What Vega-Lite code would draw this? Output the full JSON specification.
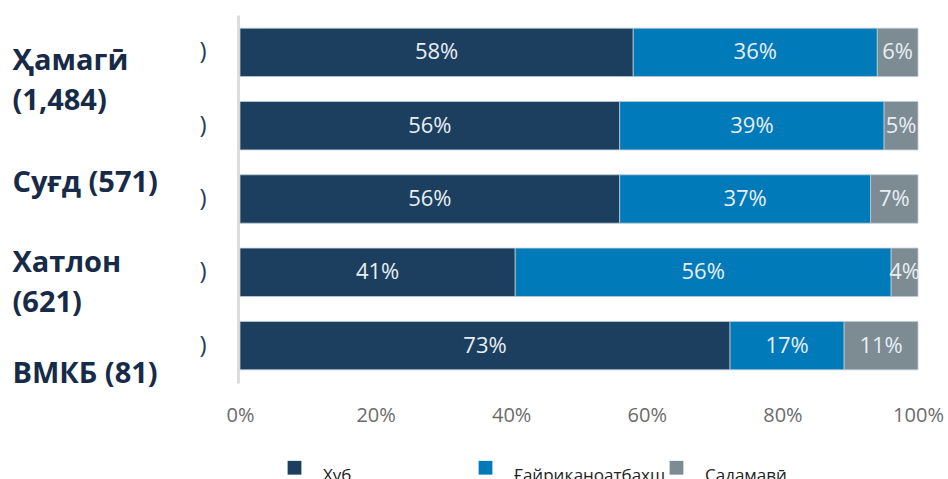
{
  "$schema": "https://vega.github.io/schema/vega-lite/v6.json",
  "width": 678,
  "height": 368,
  "autosize": {"type": "none"},
  "padding": {"left": 240, "top": 15, "right": 30, "bottom": 96},
  "background": "white",
  "config": {"view": {"stroke": null}},
  "datasets": {
    "bars": [
      {"row": "1", "cat": "Хуб", "o": 1, "value": 0.58},
      {"row": "1", "cat": "Ғайриқаноатбахш", "o": 2, "value": 0.36},
      {"row": "1", "cat": "Садамавӣ", "o": 3, "value": 0.06},
      {"row": "2", "cat": "Хуб", "o": 1, "value": 0.56},
      {"row": "2", "cat": "Ғайриқаноатбахш", "o": 2, "value": 0.39},
      {"row": "2", "cat": "Садамавӣ", "o": 3, "value": 0.05},
      {"row": "3", "cat": "Хуб", "o": 1, "value": 0.56},
      {"row": "3", "cat": "Ғайриқаноатбахш", "o": 2, "value": 0.37},
      {"row": "3", "cat": "Садамавӣ", "o": 3, "value": 0.07},
      {"row": "4", "cat": "Хуб", "o": 1, "value": 0.41},
      {"row": "4", "cat": "Ғайриқаноатбахш", "o": 2, "value": 0.56},
      {"row": "4", "cat": "Садамавӣ", "o": 3, "value": 0.04},
      {"row": "5", "cat": "Хуб", "o": 1, "value": 0.73},
      {"row": "5", "cat": "Ғайриқаноатбахш", "o": 2, "value": 0.17},
      {"row": "5", "cat": "Садамавӣ", "o": 3, "value": 0.11}
    ],
    "labels": [
      {"lbl": "Ҳамагӣ (1,484)"},
      {"lbl": "Суғд (571)"},
      {"lbl": "Хатлон (621)"},
      {"lbl": "ВМКБ (81)"}
    ]
  },
  "layer": [
    {
      "data": {"name": "bars"},
      "layer": [
        {
          "mark": {"type": "bar", "stroke": "#b9cbd8", "strokeWidth": 0.8},
          "encoding": {
            "y": {
              "field": "row", "type": "nominal", "sort": null,
              "scale": {"paddingInner": 0.34, "paddingOuter": 0.18},
              "axis": {
                "title": null, "orient": "left", "offset": 2,
                "labelExpr": "')'", "labelFont": "Open Sans", "labelFontSize": 24,
                "labelColor": "#1f3b5c", "labelPadding": 32, "ticks": false,
                "domain": true, "domainColor": "#dddddd", "domainWidth": 3, "grid": false
              }
            },
            "x": {
              "field": "value", "type": "quantitative", "stack": "normalize",
              "scale": {"domain": [0, 1], "nice": false},
              "axis": {
                "title": null, "format": ".0%", "values": [0, 0.2, 0.4, 0.6, 0.8, 1],
                "labelFont": "Open Sans", "labelFontSize": 20, "labelColor": "#6b6b6b",
                "labelPadding": 22, "ticks": false, "domain": false, "grid": false,
                "labelFlush": false
              }
            },
            "color": {
              "field": "cat", "type": "nominal",
              "scale": {
                "domain": ["Хуб", "Ғайриқаноатбахш", "Садамавӣ"],
                "range": ["#1c3f5f", "#007ab8", "#7d8b93"]
              },
              "legend": {
                "title": null, "orient": "none", "legendX": 46, "legendY": 444,
                "direction": "horizontal", "columns": 3, "gridAlign": "all",
                "symbolType": "square", "symbolSize": 190, "symbolStrokeWidth": 0,
                "labelOffset": 20, "columnPadding": 2,
                "labelFont": "Open Sans", "labelFontSize": 17, "labelColor": "#222222",
                "labelBaseline": "top", "labelLimit": 300
              }
            },
            "order": {"field": "o", "type": "quantitative"}
          }
        },
        {
          "transform": [
            {"stack": "value", "groupby": ["row"], "sort": [{"field": "o", "order": "ascending"}], "offset": "normalize", "as": ["v0", "v1"]},
            {"fold": ["v0", "v1"], "as": ["edge", "pos"]},
            {"aggregate": [{"op": "mean", "field": "pos", "as": "mid"}], "groupby": ["row", "cat", "value"]}
          ],
          "mark": {"type": "text", "font": "Open Sans", "fontSize": 22, "color": "#e8eef3"},
          "encoding": {
            "y": {"field": "row", "type": "nominal", "sort": null},
            "x": {"field": "mid", "type": "quantitative"},
            "text": {"field": "value", "type": "quantitative", "format": ".0%"}
          }
        }
      ]
    },
    {
      "data": {"name": "labels"},
      "mark": {"type": "point", "opacity": 0},
      "encoding": {
        "y": {
          "field": "lbl", "type": "nominal", "sort": null,
          "scale": {"type": "point", "range": [45, 358], "padding": 0},
          "axis": {
            "title": null, "orient": "left", "labelAlign": "left", "labelPadding": 228,
            "labelFont": "Open Sans", "labelFontSize": 29, "labelFontWeight": "bold",
            "labelColor": "#172b48", "labelLineHeight": 40, "labelLimit": 400,
            "labelOverlap": false, "labelBound": false,
            "labelOffset": {"condition": [
              {"test": "datum.value == 'Суғд (571)'", "value": 18},
              {"test": "datum.value == 'Хатлон (621)'", "value": -6}
            ], "value": 0},
            "labelExpr": "length(datum.value) > 11 ? split(datum.value, ' ') : datum.value",
            "ticks": false, "domain": false, "grid": false
          }
        }
      }
    }
  ],
  "resolve": {"scale": {"y": "independent"}, "axis": {"y": "independent"}}
}
